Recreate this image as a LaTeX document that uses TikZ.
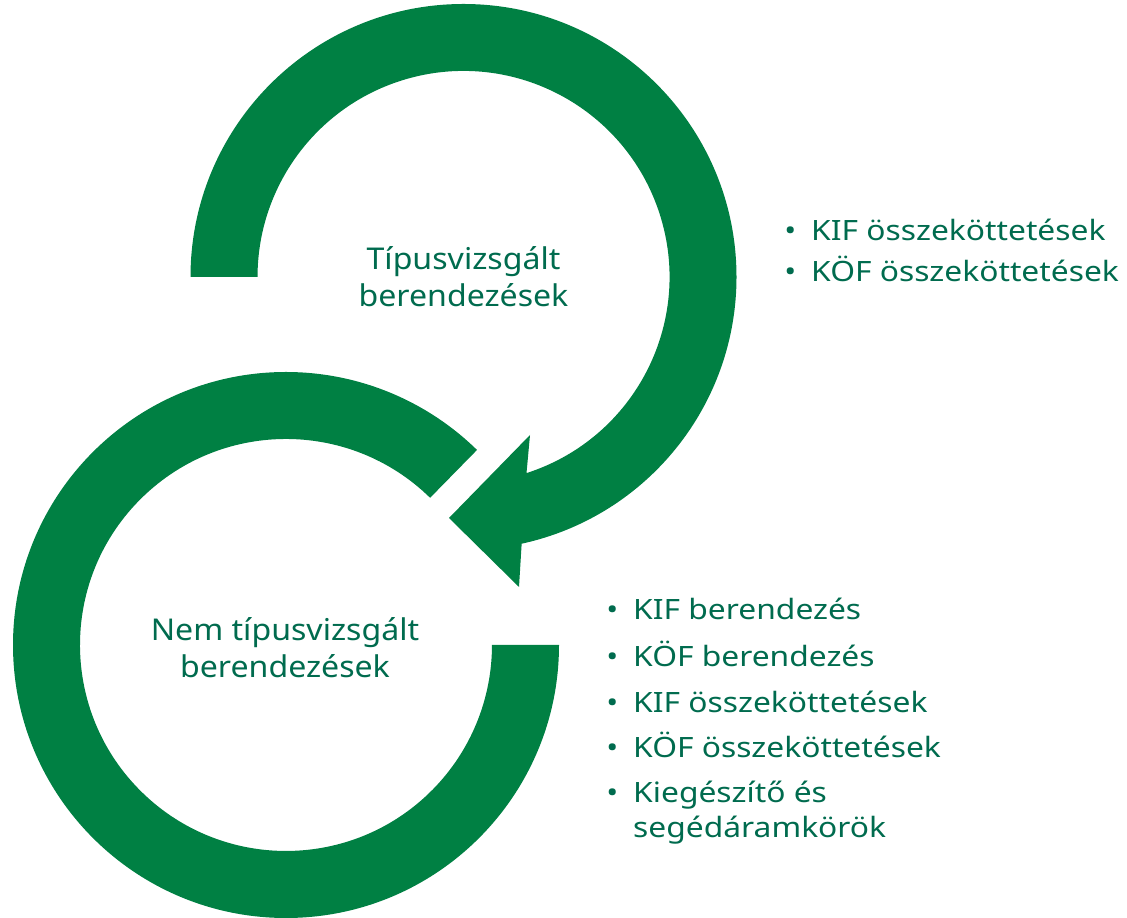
\documentclass[tikz,border=0pt]{standalone}
\usepackage{fontspec}
\setmainfont{Noto Sans}
\newfontfamily\ringfont[FakeStretch=1.07]{Noto Sans}
\newfontfamily\listfont[FakeStretch=1.135]{Noto Sans}
\usetikzlibrary{positioning}
\definecolor{ringgreen}{RGB}{0,128,67}
\definecolor{textgreen}{RGB}{0,107,78}

\begin{document}
\begin{tikzpicture}[x=1pt,y=1pt,
                    ring/.style={fill=ringgreen,draw=none},
                    label node/.style={align=center,text=textgreen,inner sep=0pt,
                                       font=\ringfont\fontsize{30}{37}\selectfont},
                    item/.style={anchor=base west,align=left,text=textgreen,inner sep=0pt,
                                 font=\listfont\fontsize{28}{35}\selectfont}]
  \useasboundingbox (0,0) rectangle (1127,918);
  % upper ring, ends in the arrow head
  \coordinate (c1) at (463.5,641);
  \fill[ring] (c1) ++(180:273) arc[start angle=180,end angle=-77.7,radius=273]
       -- (519,331) -- (449,400) -- (530,483) -- (526.5,444.9)
       arc[start angle=-72.2,end angle=180,radius=206] -- cycle;
  % lower ring, open at the upper right
  \coordinate (c2) at (286,273);
  \fill[ring] (c2) ++(0:273) arc[start angle=0,end angle=-314.4,radius=273]
       -- (430.1,420.2)
       arc[start angle=45.6,end angle=360,radius=206] -- cycle;
  \node[label node] (t) at (463.5,641) {Típusvizsgált\\berendezések};
  \node[label node] (n) at (285,270) {Nem típusvizsgált\\berendezések};
  % bullet lists (base of the last line sits at the given point)
  \node[item] (t1) at (811,677) {\llap{\textbullet\hskip 15pt}KIF összeköttetések};
  \node[item] (t2) at (811,636) {\llap{\textbullet\hskip 15pt}KÖF összeköttetések};
  \node[item] (n1) at (633,298) {\llap{\textbullet\hskip 15pt}KIF berendezés};
  \node[item] (n2) at (633,251) {\llap{\textbullet\hskip 15pt}KÖF berendezés};
  \node[item] (n3) at (633,205) {\llap{\textbullet\hskip 15pt}KIF összeköttetések};
  \node[item] (n4) at (633,160) {\llap{\textbullet\hskip 15pt}KÖF összeköttetések};
  \node[item] (n5) at (633,80) {\llap{\textbullet\hskip 15pt}Kiegészítő és\\segédáramkörök};
\end{tikzpicture}
\end{document}
